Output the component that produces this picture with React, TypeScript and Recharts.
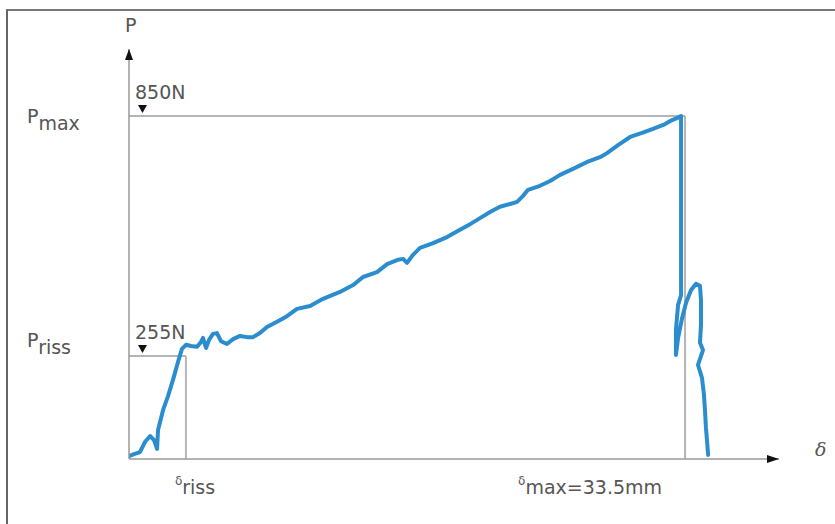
import { LineChart, Line, XAxis, YAxis, ReferenceLine, ReferenceDot } from "recharts";

// load–deflection curve (deflection in mm, load in N)
const deflection = [
  0, 0.3, 0.66, 0.96, 1.27, 1.51, 1.69, 1.75, 2.05, 2.35,
  2.65, 2.95, 3.19, 3.43, 3.74, 4.1, 4.34, 4.46, 4.64, 4.82,
  5.06, 5.3, 5.54, 5.9, 6.27, 6.69, 7.11, 7.47, 7.89, 8.31,
  8.92, 9.52, 10.12, 10.91, 11.69, 12.71, 13.5, 14.1, 14.94, 15.55,
  16.15, 16.51, 16.75, 17.11, 17.53, 18.32, 19.16, 19.94, 20.55, 21.15,
  21.75, 22.35, 22.96, 23.38, 23.74, 24.04, 24.76, 25.37, 25.97, 26.75,
  27.6, 28.38, 28.8, 29.46, 30.19, 30.91, 31.57, 32.3, 32.72, 33.08,
  33.26, 33.26, 33.08, 32.95, 32.95, 33.08, 33.32, 33.56, 33.86, 34.16,
  34.4, 34.46, 34.46, 34.4, 34.58, 34.28, 34.52, 34.64, 34.7, 34.76,
  34.82, 34.89,
];
const load = [
  7, 12, 17, 42, 57, 47, 25, 72, 121, 156,
  196, 240, 273, 283, 280, 278, 290, 300, 275, 295,
  310, 312, 292, 285, 297, 305, 302, 302, 312, 327,
  340, 354, 372, 379, 397, 414, 431, 451, 463, 483,
  493, 496, 486, 506, 523, 535, 550, 568, 582, 597,
  612, 625, 632, 637, 652, 667, 677, 689, 704, 719,
  736, 748, 758, 778, 798, 808, 818, 830, 840, 846,
  850, 406, 382, 320, 258, 300, 349, 387, 419, 434,
  429, 394, 332, 288, 270, 233, 201, 159, 121, 77,
  47, 10,
];

const P_MAX = 850;
const P_RISS = 255;
const D_MAX = 33.5;
const D_RISS = 3.43;
const X_END = 39.16;
const Y_END = 1016;

const data = deflection.map((d, i) => ({ d, p: load[i] }));

const txt = { fontFamily: '"DejaVu Sans", sans-serif', fontSize: 19, fill: "#555" };
const refStroke = "#b5b5b5";

function YTick(props: any) {
  const { x, y, payload } = props;
  const isMax = payload.value === P_MAX;
  return (
    <text x={x - 102} y={y + (isMax ? 7 : -9)} {...txt}>
      P<tspan dy={7}>{isMax ? "max" : "riss"}</tspan>
    </text>
  );
}

function XTick(props: any) {
  const { x, y, payload } = props;
  const isMax = payload.value === D_MAX;
  return (
    <text x={x + (isMax ? -167 : -11)} y={y + 26} {...txt}>
      <tspan fontSize={12}>δ</tspan>
      <tspan dy={9}>{isMax ? "max=33.5mm" : "riss"}</tspan>
    </text>
  );
}

function valueMark(label: string) {
  return (p: any) => (
    <g>
      <path d={`M${p.cx + 9} ${p.cy - 11} h9 l-4.5 8 z`} fill="#111" />
      <text x={p.cx + 6} y={p.cy - 17} {...txt}>{label}</text>
    </g>
  );
}

export default function App() {
  return (
    <div style={{ position: "absolute", left: 0, top: 0, width: 835, height: 524, overflow: "hidden", background: "#fff" }}>
      <div
        style={{
          position: "absolute", left: 6, top: 9, width: 900, height: 600,
          borderLeft: "2px solid #666", borderTop: "2px solid #777",
        }}
      />
      <LineChart
        width={835}
        height={524}
        data={data}
        margin={{ top: 49, right: 56, bottom: 0, left: 0 }}
        style={{ position: "absolute", left: 0, top: 0 }}
      >
        <XAxis
          type="number"
          dataKey="d"
          domain={[0, X_END]}
          ticks={[D_RISS, D_MAX]}
          interval={0}
          tick={(p: any) => <XTick {...p} />}
          tickLine={false}
          tickSize={0}
          tickMargin={0}
          height={65}
          axisLine={{ stroke: "#999", strokeWidth: 1.5 }}
          allowDataOverflow
        />
        <YAxis
          type="number"
          domain={[0, Y_END]}
          ticks={[P_RISS, P_MAX]}
          interval={0}
          tick={(p: any) => <YTick {...p} />}
          tickLine={false}
          tickSize={0}
          tickMargin={0}
          width={129}
          axisLine={{ stroke: "#999", strokeWidth: 1.5 }}
          allowDataOverflow
        />
        <ReferenceLine segment={[{ x: 0, y: P_MAX }, { x: D_MAX, y: P_MAX }]} stroke={refStroke} strokeWidth={2} />
        <ReferenceLine segment={[{ x: D_MAX, y: 0 }, { x: D_MAX, y: P_MAX }]} stroke={refStroke} strokeWidth={2} />
        <ReferenceLine segment={[{ x: 0, y: P_RISS }, { x: D_RISS, y: P_RISS }]} stroke={refStroke} strokeWidth={2} />
        <ReferenceLine segment={[{ x: D_RISS, y: 0 }, { x: D_RISS, y: P_RISS }]} stroke={refStroke} strokeWidth={2} />
        <Line
          type="linear"
          dataKey="p"
          stroke="#2b8dce"
          strokeWidth={4}
          strokeLinejoin="round"
          strokeLinecap="round"
          dot={false}
          activeDot={false}
          isAnimationActive={false}
        />
        <ReferenceDot x={0} y={P_MAX} r={0} shape={valueMark("850N")} />
        <ReferenceDot x={0} y={P_RISS} r={0} shape={valueMark("255N")} />
        <ReferenceDot
          x={0}
          y={Y_END}
          r={0}
          shape={(p: any) => (
            <g>
              <path d={`M${p.cx} ${p.cy} l-4 11 h8 z`} fill="#111" />
              <text x={p.cx - 4} y={p.cy - 17} {...txt}>P</text>
            </g>
          )}
        />
        <ReferenceDot
          x={X_END}
          y={0}
          r={0}
          shape={(p: any) => (
            <g>
              <path d={`M${p.cx} ${p.cy} l-12 -4 v8 z`} fill="#111" />
              <text x={p.cx + 36} y={p.cy - 3} fontFamily='"DejaVu Serif", serif' fontStyle="italic" fontSize={19} fill="#555">δ</text>
            </g>
          )}
        />
      </LineChart>
    </div>
  );
}
